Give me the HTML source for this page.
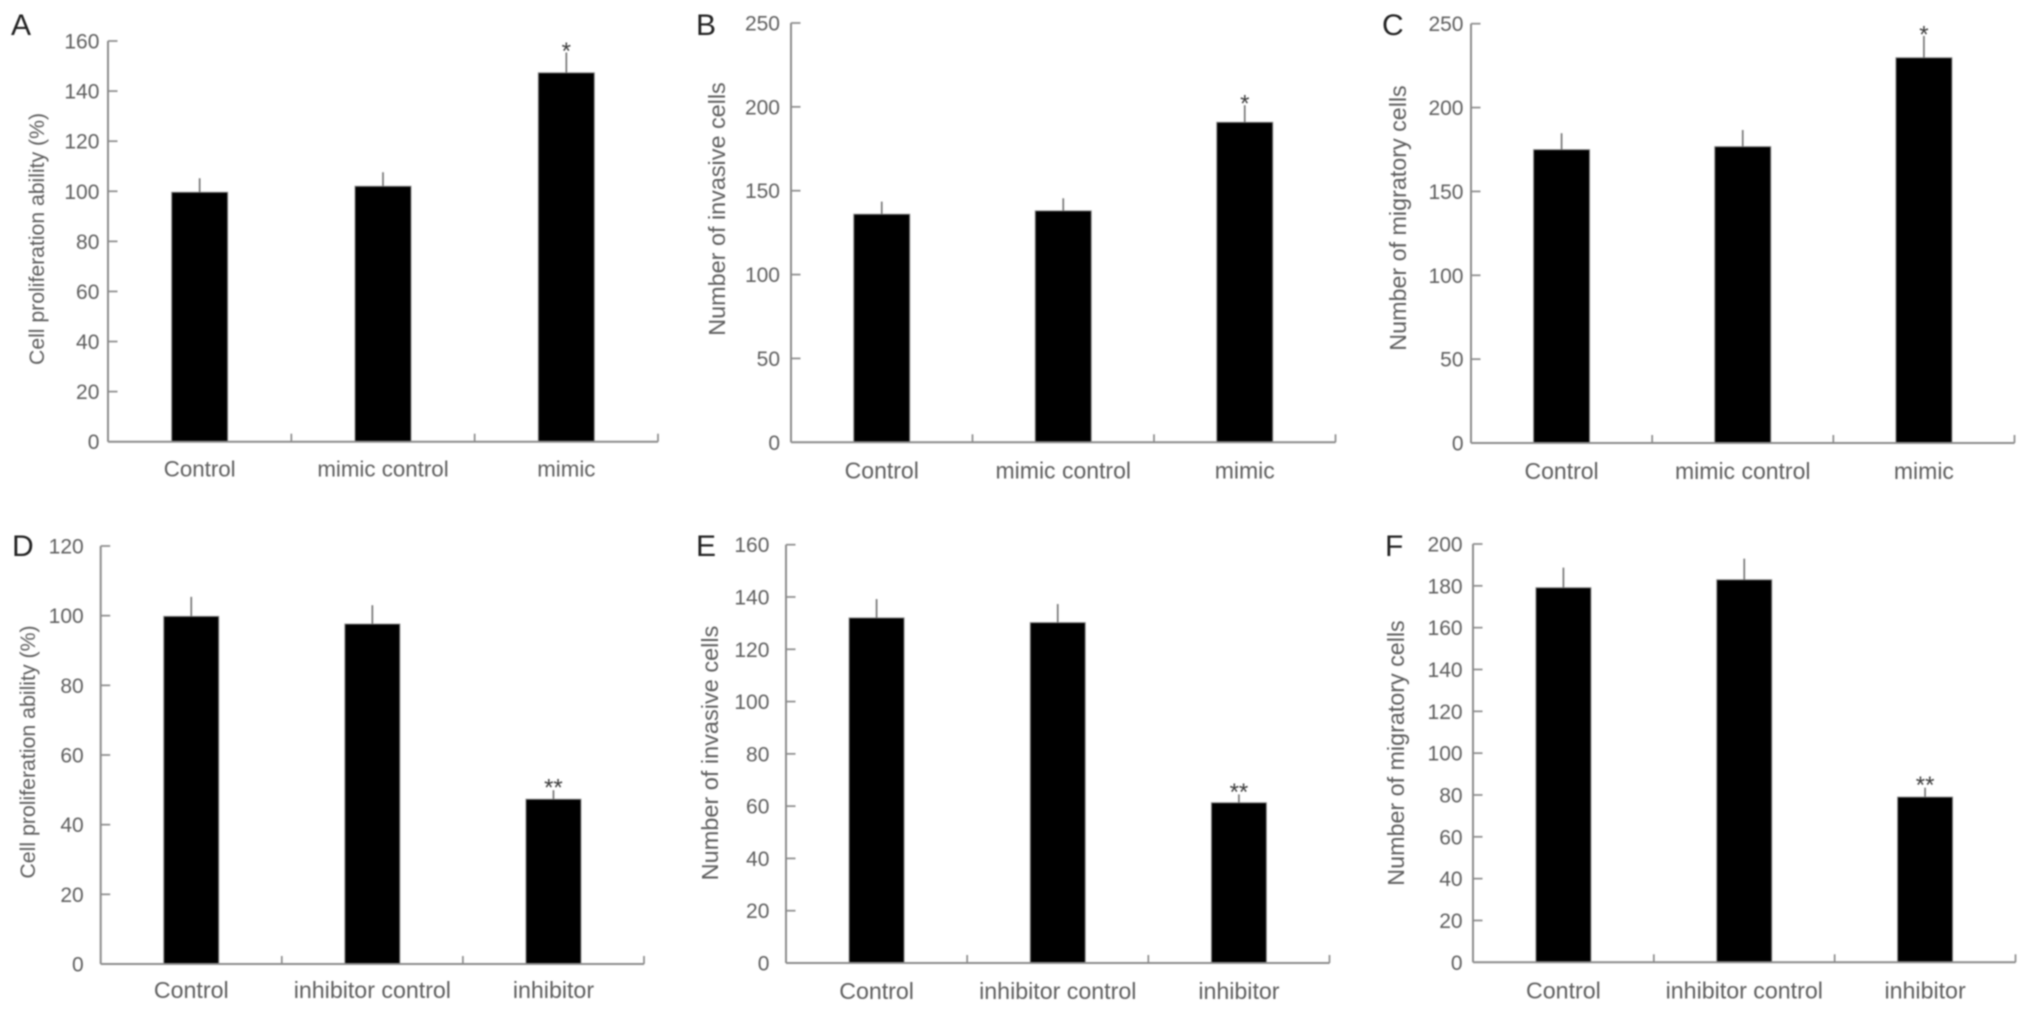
<!DOCTYPE html>
<html lang="en">
<head>
<meta charset="utf-8">
<title>Six-panel bar charts</title>
<style>
html,body{margin:0;padding:0;background:#fff;width:2031px;height:1012px;overflow:hidden}
svg{display:block;filter:blur(0.7px)}
text{font-family:"Liberation Sans",sans-serif;fill:#5e5e5e}
</style>
</head>
<body>
<svg id="figure" xmlns="http://www.w3.org/2000/svg" width="2031" height="1012" viewBox="0 0 2031 1012"></svg>
<script>
const categoriesMimic = ['Control', 'mimic control', 'mimic'];
const categoriesInhibitor = ['Control', 'inhibitor control', 'inhibitor'];

const ticksA = [0, 20, 40, 60, 80, 100, 120, 140, 160];
const valuesA = [99.6, 102, 147.3];
const errorsA = [5.6, 5.6, 8.1];
const marksA = ['', '', '*'];

const ticksB = [0, 50, 100, 150, 200, 250];
const valuesB = [136, 138, 190.8];
const errorsB = [7.5, 7.5, 10.2];
const marksB = ['', '', '*'];

const ticksC = [0, 50, 100, 150, 200, 250];
const valuesC = [174.9, 176.7, 229.7];
const errorsC = [9.8, 9.9, 13];
const marksC = ['', '', '*'];

const ticksD = [0, 20, 40, 60, 80, 100, 120];
const valuesD = [99.8, 97.6, 47.3];
const errorsD = [5.6, 5.4, 2.6];
const marksD = ['', '', '**'];

const ticksE = [0, 20, 40, 60, 80, 100, 120, 140, 160];
const valuesE = [132, 130.2, 61.3];
const errorsE = [7.2, 7.1, 3.2];
const marksE = ['', '', '**'];

const ticksF = [0, 20, 40, 60, 80, 100, 120, 140, 160, 180, 200];
const valuesF = [179.1, 182.9, 79];
const errorsF = [9.6, 10.1, 4.5];
const marksF = ['', '', '**'];

const NS = 'http://www.w3.org/2000/svg';
const root = document.getElementById('figure');

function make(tag, attrs, parent, content) {
  const node = document.createElementNS(NS, tag);
  for (const key in attrs) node.setAttribute(key, attrs[key]);
  if (content !== undefined) node.textContent = content;
  parent.appendChild(node);
  return node;
}

function drawPanel(p) {
  const slug = p.letter.toLowerCase();
  const yScale = v => p.y0 - (v / p.max) * (p.y0 - p.yTop);
  const band = (p.xRight - p.x0) / p.categories.length;
  const xCenter = i => p.x0 + band * (i + 0.5);
  const xEdge = i => p.x0 + band * i;

  const panel = make('g', {}, root);
  
  

  const letter = make('text', {x: p.letterX, y: p.letterY, 'font-size': 30, style: 'fill:#222'}, panel, p.letter);
  
  

  const title = make('text', {
    x: p.titleX, y: p.titleY, 'font-size': p.titleSize, 'text-anchor': 'middle',
    transform: 'rotate(-90 ' + p.titleX + ' ' + p.titleY + ')'
  }, panel, p.title);
  
  

  p.categories.forEach((c, i) => {
    const cx = xCenter(i);
    const w = p.barWidth;
    const bar = make('rect', {
      x: cx - w / 2, y: yScale(p.values[i]), width: w, height: p.y0 - yScale(p.values[i]),
      fill: '#000', stroke: '#8a8a8a', 'stroke-width': 1
    }, panel);
    
    

    const err = make('line', {
      x1: cx, x2: cx, y1: yScale(p.values[i]), y2: yScale(p.values[i] + p.errors[i]),
      stroke: '#777', 'stroke-width': 1.7
    }, panel);
    
    

    if (p.marks[i]) {
      const mark = make('text', {
        x: cx, y: yScale(p.values[i] + p.errors[i]) + p.markOffset, 'font-size': 24,
        'text-anchor': 'middle', style: 'fill:#3c3c3c'
      }, panel, p.marks[i]);
      
      
    }

    const label = make('text', {
      x: cx, y: p.y0 + p.labelOffset, 'font-size': p.labelSize, 'text-anchor': 'middle'
    }, panel, c);
    
    
  });

  const yAxis = make('line', {
    x1: p.x0, x2: p.x0, y1: p.yTop, y2: p.y0, stroke: '#8c8c8c', 'stroke-width': 2
  }, panel);
  
  

  const xAxis = make('line', {
    x1: p.x0, x2: p.xRight, y1: p.y0, y2: p.y0, stroke: '#8c8c8c', 'stroke-width': 2
  }, panel);
  
  

  p.ticks.forEach(t => {
    const y = yScale(t);
    if (t !== 0) {
      const tick = make('line', {
        x1: p.x0, x2: p.x0 + 9.5, y1: y, y2: y, stroke: '#8c8c8c', 'stroke-width': 1.7
      }, panel);
      
      
    }
    const tl = make('text', {
      x: p.x0 - p.tickGap, y: y + 7.5, 'font-size': 21, 'text-anchor': 'end'
    }, panel, String(t));
    
    
  });

  for (let i = 1; i <= p.categories.length; i++) {
    const x = xEdge(i);
    const tick = make('line', {
      x1: x, x2: x, y1: p.y0, y2: p.y0 - 8, stroke: '#8c8c8c', 'stroke-width': 1.7
    }, panel);
    
    
  }
}

drawPanel({letter: 'A', letterX: 11, letterY: 35, title: 'Cell proliferation ability (%)', titleX: 44, titleY: 239, titleSize: 21.2,
  x0: 108, xRight: 658, yTop: 41, y0: 441.7, max: 160, barWidth: 56, tickGap: 8.6, labelOffset: 35, labelSize: 22.3, markOffset: 6.5,
  categories: categoriesMimic, ticks: ticksA, values: valuesA, errors: errorsA, marks: marksA});
drawPanel({letter: 'B', letterX: 696, letterY: 35, title: 'Number of invasive cells', titleX: 725, titleY: 209, titleSize: 23.4,
  x0: 791, xRight: 1335.5, yTop: 23, y0: 442.3, max: 250, barWidth: 56, tickGap: 11, labelOffset: 36, labelSize: 23, markOffset: 6.5,
  categories: categoriesMimic, ticks: ticksB, values: valuesB, errors: errorsB, marks: marksB});
drawPanel({letter: 'C', letterX: 1382, letterY: 35, title: 'Number of migratory cells', titleX: 1406, titleY: 218, titleSize: 23.3,
  x0: 1471, xRight: 2014.5, yTop: 23.7, y0: 443, max: 250, barWidth: 56, tickGap: 7.5, labelOffset: 36, labelSize: 23, markOffset: 6.5,
  categories: categoriesMimic, ticks: ticksC, values: valuesC, errors: errorsC, marks: marksC});
drawPanel({letter: 'D', letterX: 12, letterY: 556, title: 'Cell proliferation ability (%)', titleX: 35, titleY: 752, titleSize: 21.3,
  x0: 100.7, xRight: 644, yTop: 546, y0: 964, max: 120, barWidth: 55, tickGap: 17, labelOffset: 34, labelSize: 23.2, markOffset: 5.5,
  categories: categoriesInhibitor, ticks: ticksD, values: valuesD, errors: errorsD, marks: marksD});
drawPanel({letter: 'E', letterX: 696, letterY: 556, title: 'Number of invasive cells', titleX: 718, titleY: 753, titleSize: 23.5,
  x0: 786, xRight: 1329.5, yTop: 544.7, y0: 963, max: 160, barWidth: 55, tickGap: 16.6, labelOffset: 36, labelSize: 23.2, markOffset: 5.5,
  categories: categoriesInhibitor, ticks: ticksE, values: valuesE, errors: errorsE, marks: marksE});
drawPanel({letter: 'F', letterX: 1385, letterY: 556, title: 'Number of migratory cells', titleX: 1404, titleY: 753, titleSize: 23.3,
  x0: 1473, xRight: 2015.5, yTop: 544, y0: 962.3, max: 200, barWidth: 55, tickGap: 10.4, labelOffset: 36, labelSize: 23.2, markOffset: 5.5,
  categories: categoriesInhibitor, ticks: ticksF, values: valuesF, errors: errorsF, marks: marksF});
</script>
</body>
</html>
